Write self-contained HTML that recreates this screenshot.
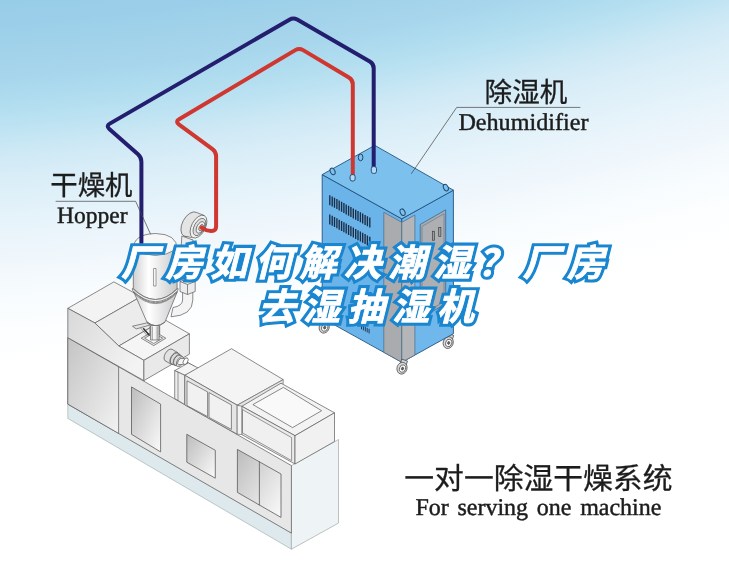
<!DOCTYPE html>
<html><head><meta charset="utf-8"><title>厂房如何解决潮湿？厂房去湿抽湿机</title>
<style>html,body{margin:0;padding:0;background:#fff}body{width:729px;height:561px;overflow:hidden;font-family:"Liberation Sans",sans-serif}svg{display:block}</style>
</head><body>
<svg width="729" height="561" viewBox="0 0 729 561" role="img"><title>厂房如何解决潮湿？厂房去湿抽湿机</title><desc>一对一除湿干燥系统 For serving one machine. 干燥机 Hopper, 除湿机 Dehumidifier.</desc><defs>
<radialGradient id="bg" gradientUnits="userSpaceOnUse" cx="-272.0" cy="-3400.0" r="3790.9"><stop offset="0.89976" stop-color="#98cde8"/><stop offset="0.90635" stop-color="#9bcfe9"/><stop offset="0.92086" stop-color="#a8d6ec"/><stop offset="0.92614" stop-color="#afdcef"/><stop offset="0.93141" stop-color="#b9e1f1"/><stop offset="0.93669" stop-color="#c6e6f4"/><stop offset="0.93933" stop-color="#cde8f5"/><stop offset="0.94724" stop-color="#daeef8"/><stop offset="0.95779" stop-color="#e6f3fa"/><stop offset="0.96834" stop-color="#f0f7fc"/><stop offset="0.97890" stop-color="#f8fcfe"/><stop offset="0.98945" stop-color="#fdfeff"/><stop offset="1.00000" stop-color="#ffffff"/></radialGradient>

<linearGradient id="win" x1="0" y1="0" x2="1" y2="1"><stop offset="0" stop-color="#bcbcbc"/><stop offset="1" stop-color="#fafafa"/></linearGradient>
<linearGradient id="dark" x1="0" y1="0" x2="1" y2="1"><stop offset="0" stop-color="#c4c4c4"/><stop offset="1" stop-color="#f2f2f2"/></linearGradient>
<linearGradient id="blk" x1="0" y1="0" x2="1" y2="0.6"><stop offset="0" stop-color="#d8d8d8"/><stop offset="1" stop-color="#f3f3f3"/></linearGradient>
<linearGradient id="cyl" x1="0" y1="0" x2="1" y2="0"><stop offset="0" stop-color="#d0d0d0"/><stop offset="0.35" stop-color="#ffffff"/><stop offset="1" stop-color="#c8c8c8"/></linearGradient>
</defs>
<rect width="729" height="561" fill="url(#bg)"/>
<polygon points="67.8,404.1 291.4,533.1 291.4,549.2 67.8,418.4" fill="#dde9ec" stroke="#9aa" stroke-width="0.6" stroke-linejoin="round" />
<polygon points="291.4,465.6 338.5,439.5 338.5,523.1 291.4,549.2" fill="#eef4f6" stroke="#999" stroke-width="0.6" stroke-linejoin="round" />
<polygon points="67.8,337.7 291.4,465.6 291.4,533.1 67.8,404.1" fill="#e7e7e7" stroke="#5a5a5a" stroke-width="0.7" stroke-linejoin="round" />
<polygon points="67.8,337.7 118.6,366.8 118.6,433.4 67.8,404.1" fill="url(#dark)" stroke="#5a5a5a" stroke-width="0.7" stroke-linejoin="round" />
<polygon points="131.5,386.9 160.6,404.1 160.6,451.9 131.5,434.3" fill="url(#win)" stroke="#5a5a5a" stroke-width="0.8" stroke-linejoin="round" />
<polygon points="186.8,434.3 215.3,450.3 215.3,478.2 186.8,462.2" fill="url(#win)" stroke="#5a5a5a" stroke-width="0.8" stroke-linejoin="round" />
<polygon points="237.4,449.4 281.0,474.0 281.0,517.4 237.4,492.4" fill="url(#win)" stroke="#5a5a5a" stroke-width="0.8" stroke-linejoin="round" />
<polyline points="259.4,461.8 259.4,505.0" fill="none" stroke="#5a5a5a" stroke-width="0.8" stroke-linejoin="round" stroke-linecap="round" />
<polygon points="67.8,308.3 113.9,281.9 141.0,296.6 94.9,323.0" fill="#f3f3f3" stroke="#5a5a5a" stroke-width="0.7" stroke-linejoin="round" />
<polygon points="94.9,323.0 141.0,296.6 164.3,319.5 118.8,346.0" fill="#ececec" stroke="#5a5a5a" stroke-width="0.7" stroke-linejoin="round" />
<polygon points="118.8,346.0 164.3,319.5 189.4,333.8 143.9,360.3" fill="#f5f5f5" stroke="#5a5a5a" stroke-width="0.7" stroke-linejoin="round" />
<polygon points="67.8,308.3 94.9,323.0 118.8,346.0 143.9,360.3 143.9,380.6 67.8,337.7" fill="url(#blk)" stroke="#5a5a5a" stroke-width="0.7" stroke-linejoin="round" />
<polygon points="143.9,360.3 189.4,333.8 189.4,354.2 143.9,380.6" fill="#e9e9e9" stroke="#5a5a5a" stroke-width="0.7" stroke-linejoin="round" />
<polyline points="186.0,362.0 195.0,367.2" fill="none" stroke="#5a5a5a" stroke-width="1.4" stroke-linejoin="round" stroke-linecap="round" />
<ellipse cx="168.8" cy="355.2" rx="3.87" ry="6.70" fill="#e2e2e2" stroke="#5a5a5a" stroke-width="0.7" transform="rotate(30 168.8 355.2)"/>
<path d="M172.2 349.4 L177.9 352.7 L171.2 364.3 L165.5 361.0 Z" fill="#e2e2e2" stroke="none"/>
<path d="M172.2 349.4 L177.9 352.7 M165.5 361.0 L171.2 364.3" stroke="#5a5a5a" stroke-width="0.7" fill="none"/>
<ellipse cx="174.6" cy="358.5" rx="3.87" ry="6.70" fill="#e6e6e6" stroke="#5a5a5a" stroke-width="0.7" transform="rotate(30 174.6 358.5)"/>
<ellipse cx="174.6" cy="358.5" rx="3.46" ry="6.00" fill="#dcdcdc" stroke="#5a5a5a" stroke-width="0.7" transform="rotate(30 174.6 358.5)"/>
<path d="M177.6 353.3 L180.4 354.9 L174.4 365.3 L171.6 363.7 Z" fill="#dcdcdc" stroke="none"/>
<path d="M177.6 353.3 L180.4 354.9 M171.6 363.7 L174.4 365.3" stroke="#5a5a5a" stroke-width="0.7" fill="none"/>
<ellipse cx="177.4" cy="360.1" rx="3.46" ry="6.00" fill="#e8e8e8" stroke="#5a5a5a" stroke-width="0.7" transform="rotate(30 177.4 360.1)"/>
<ellipse cx="177.4" cy="360.1" rx="3.12" ry="5.40" fill="#dcdcdc" stroke="#5a5a5a" stroke-width="0.7" transform="rotate(30 177.4 360.1)"/>
<path d="M180.1 355.4 L182.9 357.0 L177.5 366.4 L174.7 364.8 Z" fill="#dcdcdc" stroke="none"/>
<path d="M180.1 355.4 L182.9 357.0 M174.7 364.8 L177.5 366.4" stroke="#5a5a5a" stroke-width="0.7" fill="none"/>
<ellipse cx="180.2" cy="361.7" rx="3.12" ry="5.40" fill="#efefef" stroke="#5a5a5a" stroke-width="0.7" transform="rotate(30 180.2 361.7)"/>
<ellipse cx="180.2" cy="361.7" rx="2.08" ry="3.60" fill="#f4f4f4" stroke="#5a5a5a" stroke-width="0.7" transform="rotate(30 180.2 361.7)"/>
<path d="M182.0 358.6 L187.4 358.1 L183.8 364.3 L178.4 364.8 Z" fill="#f4f4f4" stroke="none"/>
<path d="M182.0 358.6 L187.4 358.1 M178.4 364.8 L183.8 364.3" stroke="#5a5a5a" stroke-width="0.7" fill="none"/>
<ellipse cx="185.6" cy="361.2" rx="2.08" ry="3.60" fill="#ffffff" stroke="#5a5a5a" stroke-width="0.7" transform="rotate(30 185.6 361.2)"/>
<polygon points="174.7,370.6 188.4,362.9 198.5,368.2 184.8,375.3" fill="#f4f4f4" stroke="#5a5a5a" stroke-width="0.7" stroke-linejoin="round" />
<polygon points="174.7,370.6 184.8,375.3 184.8,404.6 174.7,398.6" fill="#ededed" stroke="#5a5a5a" stroke-width="0.7" stroke-linejoin="round" />
<polyline points="178.0,372.2 178.0,400.5" fill="none" stroke="#5a5a5a" stroke-width="0.6" stroke-linejoin="round" stroke-linecap="round" />
<polygon points="184.8,375.3 231.5,348.7 283.2,379.6 237.2,405.2" fill="#f4f4f4" stroke="#5a5a5a" stroke-width="0.7" stroke-linejoin="round" />
<polygon points="184.8,375.3 237.2,405.2 237.2,434.2 184.8,404.9" fill="#e5e5e5" stroke="#5a5a5a" stroke-width="0.7" stroke-linejoin="round" />
<polygon points="187.0,380.8 207.6,391.9 207.6,416.6 187.0,405.6" fill="#f1f1f1" stroke="#5a5a5a" stroke-width="0.7" stroke-linejoin="round" />
<polygon points="209.0,392.6 231.4,404.9 231.4,429.4 209.0,417.4" fill="#f1f1f1" stroke="#5a5a5a" stroke-width="0.7" stroke-linejoin="round" />
<polygon points="237.2,405.2 283.2,379.6 283.2,383.8 241.8,406.8" fill="#e4e4e4" stroke="#5a5a5a" stroke-width="0.6" stroke-linejoin="round" />
<polygon points="241.8,406.3 281.0,383.2 334.5,412.8 295.0,435.7" fill="#f3f3f3" stroke="#5a5a5a" stroke-width="0.7" stroke-linejoin="round" />
<polygon points="252.9,404.6 283.4,387.4 321.6,410.7 292.6,427.6" fill="#f9f9f9" stroke="#5a5a5a" stroke-width="0.7" stroke-linejoin="round" />
<polygon points="241.8,406.3 295.0,435.7 295.0,464.0 241.8,434.6" fill="#ebebeb" stroke="#5a5a5a" stroke-width="0.7" stroke-linejoin="round" />
<polygon points="242.5,409.6 291.6,437.6 291.6,460.6 242.5,432.9" fill="#f0f0f0" stroke="#5a5a5a" stroke-width="0.6" stroke-linejoin="round" />
<polygon points="295.0,435.7 334.5,412.8 334.5,441.5 295.0,464.0" fill="#f1f1f1" stroke="#5a5a5a" stroke-width="0.7" stroke-linejoin="round" />
<polygon points="237.2,405.2 241.8,406.3 241.8,434.6 237.2,434.2" fill="#f3f3f3" stroke="#5a5a5a" stroke-width="0.6" stroke-linejoin="round" />
<g stroke="#5a5a5a" stroke-width="0.7" stroke-linejoin="round">
<path d="M182.6 240 L182.6 300 Q182.4 306 173 307.5 L171 316.8 Q192.6 315.5 192.8 300 L192.8 240 Z" fill="#f4f4f4"/>
<path d="M180 281.5 L188 278.5 L195.2 281.5 L195.2 291.5 L187.5 294.5 L180 291.5 Z" fill="#ececec"/>
<path d="M180 281.5 L187.5 284.5 L195.2 281.5 M187.5 284.5 L187.5 294.5" fill="none"/>
<path d="M133.6 291.5 L146.8 321.8 Q155.8 329.5 164.9 322.2 L177.4 291.5 Q155.7 314 133.6 291.5 Z" fill="url(#cyl)"/>
<rect x="149.9" y="326.5" width="9.8" height="13" fill="url(#cyl)"/>
<path d="M146.8 321.8 Q155.8 329.5 164.9 322.2" fill="none"/>
<polygon points="141.2,338.2 153.7,331 165.8,338.2 153.7,345.6" fill="#e9e9e9"/>
<polygon points="144.6,338.2 153.7,333 162.6,338.2 153.7,343.5" fill="#fafafa"/>
<rect x="150.6" y="325.5" width="8.6" height="14.5" fill="url(#cyl)"/>
<path d="M152.6 326.5 V340 M157.2 326.5 V340" stroke="#777" stroke-width="0.6" fill="none"/>
<polygon points="132.5,326.2 146.8,322.9 150.2,325 136.2,328.9" fill="#e4e4e4"/>
<path d="M143.2 328.2 L149.6 335.6" stroke="#333" stroke-width="1.5" fill="none"/>
<path d="M140.5 328 L147.5 336" stroke="#666" stroke-width="0.6" fill="none"/>
<path d="M133.3 247 L133.3 288.5 Q155.7 310.5 177.1 288.5 L177.1 247 Z" fill="url(#cyl)"/>
<path d="M132.4 288.3 Q155.7 310.7 178.0 288.3 L178.0 290.4 Q155.7 313.0 132.4 290.4 Z" fill="#f3f3f3"/>
<path d="M133.0 292.3 Q155.7 315.0 177.5 292.3" fill="none" stroke-width="0.6"/>
<path d="M133.3 249 Q133.3 234 155.7 233.5 Q177.1 234 177.1 249 Q155.7 262 133.3 249 Z" fill="#f7f7f7"/>
<rect x="153.6" y="268.5" width="2.4" height="17.5" fill="#fff" stroke-width="0.6"/>
</g>
<g stroke="#5a5a5a" stroke-width="0.7">
<path d="M181.8 236 L181.2 247 L186 252 L193.4 249 L193 240 Z" fill="#ececec"/>
<ellipse cx="190.3" cy="224.3" rx="7.9" ry="13.4" fill="#e4e4e4" transform="rotate(28 190.3 224.3)"/>
<path d="M196.6 212.5 L204.6 215.6 L192.4 237.6 L184.0 236.1 Z" fill="#e4e4e4" stroke="none"/>
<path d="M196.6 212.5 L204.6 215.6 M184.0 236.1 L192.4 237.6" fill="none"/>
<ellipse cx="198.5" cy="226.6" rx="6.9" ry="12.4" fill="#f1f1f1" transform="rotate(28 198.5 226.6)"/>
<ellipse cx="199.4" cy="227.0" rx="5.2" ry="9.4" fill="#dedede" transform="rotate(28 199.4 227.0)"/>
<ellipse cx="200.4" cy="227.4" rx="3.5" ry="6.3" fill="#ededed" transform="rotate(28 200.4 227.4)"/>
<ellipse cx="201.2" cy="227.7" rx="2.0" ry="3.4" fill="#e9b9b7" transform="rotate(28 201.2 227.7)"/>
</g>
<g stroke="#444" stroke-width="0.7" transform="rotate(18 324.2 327.2)"><rect x="321.2" y="318.7" width="6" height="5" fill="#d8d8d8"/><ellipse cx="324.2" cy="327.2" rx="5.0" ry="6.0" fill="#d9d9d9"/><ellipse cx="324.8" cy="327.4" rx="3.0" ry="3.8" fill="#fafafa"/><ellipse cx="324.8" cy="327.4" rx="1.1" ry="1.4" fill="#666"/></g>
<g stroke="#444" stroke-width="0.7" transform="rotate(18 448.2 342.6)"><rect x="445.2" y="334.1" width="6" height="5" fill="#d8d8d8"/><ellipse cx="448.2" cy="342.6" rx="5.0" ry="6.0" fill="#d9d9d9"/><ellipse cx="448.8" cy="342.8" rx="3.0" ry="3.8" fill="#fafafa"/><ellipse cx="448.8" cy="342.8" rx="1.1" ry="1.4" fill="#666"/></g>
<polygon points="322.2,174.6 401.8,218.8 401.8,362.3 322.2,318.1" fill="#6ab4e9" stroke="#24527f" stroke-width="0.9" stroke-linejoin="round" />
<polygon points="401.8,218.8 453.4,190.2 453.4,333.7 401.8,362.3" fill="#70b8eb" stroke="#24527f" stroke-width="0.9" stroke-linejoin="round" />
<polygon points="322.2,174.6 374.8,145.4 453.4,190.2 401.8,218.8" fill="#7cc1ee" stroke="#24527f" stroke-width="0.9" stroke-linejoin="round" />
<polygon points="383.8,212.3 401.8,222.3 401.8,362.3 383.8,352.3" fill="#a9abae" stroke="#4a6a86" stroke-width="0.7" stroke-linejoin="round" />
<polygon points="401.8,222.3 414.9,215.0 414.9,355.0 401.8,362.3" fill="#b3b5b8" stroke="#4a6a86" stroke-width="0.7" stroke-linejoin="round" />
<polygon points="420.2,224.5 445.7,209.8 445.7,303.8 420.2,318.5" fill="#a9abae" stroke="#2f5f8a" stroke-width="0.7" stroke-linejoin="round" />
<polygon points="422.0,226.5 444.0,213.8 444.0,301.8 422.0,314.5" fill="#adafb2" stroke="#4a6a86" stroke-width="0.5" stroke-linejoin="round" />
<rect x="432.3" y="231.2" width="2.2" height="9" fill="#9a9ca0" stroke="#333" stroke-width="0.6"/>
<rect x="438.7" y="227.4" width="2.2" height="9" fill="#9a9ca0" stroke="#333" stroke-width="0.6"/>
<path d="M329.8 195.2v10M332.2 196.5v10M334.5 197.8v10M336.9 199.1v10M339.2 200.5v10M341.6 201.8v10M343.9 203.1v10M346.2 204.4v10M348.6 205.7v10M350.9 207.0v10M353.3 208.4v10M355.7 209.7v10M358.0 211.0v10M360.4 212.3v10M362.7 213.6v10M365.1 214.9v10M367.4 216.3v10M369.8 217.6v10M329.8 214.4v10M332.2 215.7v10M334.5 217.0v10M336.9 218.3v10M339.2 219.7v10M341.6 221.0v10M343.9 222.3v10M346.2 223.6v10M348.6 224.9v10M350.9 226.2v10M353.3 227.6v10M355.7 228.9v10M358.0 230.2v10M360.4 231.5v10M362.7 232.8v10M365.1 234.1v10M367.4 235.5v10M369.8 236.8v10" stroke="#1c2c44" stroke-width="1.35" fill="none"/>
<g stroke="#444" stroke-width="0.7" transform="rotate(18 402.0 368.2)"><rect x="399.0" y="359.7" width="6" height="5" fill="#d8d8d8"/><ellipse cx="402.0" cy="368.2" rx="5.0" ry="6.0" fill="#d9d9d9"/><ellipse cx="402.6" cy="368.4" rx="3.0" ry="3.8" fill="#fafafa"/><ellipse cx="402.6" cy="368.4" rx="1.1" ry="1.4" fill="#666"/></g>
<path d="M361.5 324.8v4.5M363.4 325.8v4.5M365.3 326.9v4.5M367.2 327.9v4.5M369.1 328.9v4.5" stroke="#1c2c44" stroke-width="0.9" fill="none"/>
<ellipse cx="332.6" cy="171.4" rx="2.3" ry="3.4" fill="#7fc0ec" stroke="#1d466f" stroke-width="1.0" transform="rotate(-25 332.6 171.4)"/>
<ellipse cx="360.6" cy="157.4" rx="2.3" ry="3.4" fill="#7fc0ec" stroke="#1d466f" stroke-width="1.0" transform="rotate(0 360.6 157.4)"/>
<ellipse cx="402.6" cy="212.2" rx="2.3" ry="3.4" fill="#7fc0ec" stroke="#1d466f" stroke-width="1.0" transform="rotate(-25 402.6 212.2)"/>
<ellipse cx="445.8" cy="187.6" rx="2.3" ry="3.4" fill="#7fc0ec" stroke="#1d466f" stroke-width="1.0" transform="rotate(-25 445.8 187.6)"/>
<path d="M141.4 243.0L141.4 161.8Q141.4 157.3 138.0 154.3L109.3 128.9Q105.9 125.9 109.8 123.6L289.4 19.7Q293.3 17.4 297.2 19.6L369.8 61.6Q373.7 63.8 373.7 68.3L373.7 168.0" fill="none" stroke="#231e6e" stroke-width="4.0" stroke-linecap="round" stroke-linejoin="round"/>
<path d="M201.8 227.6L202.8 228.3Q206.5 230.9 211.0 230.9L211.6 230.9Q216.1 230.9 216.1 226.4L216.1 156.3Q216.1 151.8 212.5 149.1L178.8 124.3Q175.2 121.6 179.1 119.3L295.3 50.1Q299.2 47.8 303.1 50.1L348.9 77.5Q352.8 79.8 352.8 84.3L352.8 176.0" fill="none" stroke="#cf3830" stroke-width="4.0" stroke-linecap="round" stroke-linejoin="round"/>
<rect x="350.1" y="174.6" width="5.0" height="6.4" rx="2" fill="#b4daf4" stroke="#1d3f70" stroke-width="0.9"/>
<rect x="371.3" y="166.6" width="5.2" height="6.8" rx="2" fill="#b4daf4" stroke="#1d3f70" stroke-width="0.9"/>
<g style="will-change:transform;text-rendering:geometricPrecision">
<text x="50.3" y="195" font-family="'Liberation Sans', 'Noto Sans CJK SC', sans-serif" font-size="27.4" fill="#1c1c1c" stroke="#1c1c1c" stroke-width="0.3">干燥机</text>
<polyline points="56.0,201.3 135.6,201.3 150.5,234.0" fill="none" stroke="#444" stroke-width="0.7" stroke-linejoin="round" stroke-linecap="round" />
<text x="57" y="222.6" font-family="Liberation Serif, serif" font-size="23.5" fill="#1c1c1c" stroke="#1c1c1c" stroke-width="0.45" >Hopper</text>
<text x="484.6" y="102" font-family="'Liberation Sans', 'Noto Sans CJK SC', sans-serif" font-size="27.6" fill="#1c1c1c" stroke="#1c1c1c" stroke-width="0.3">除湿机</text>
<polyline points="580.0,107.4 456.7,107.4 411.5,173.5" fill="none" stroke="#444" stroke-width="0.7" stroke-linejoin="round" stroke-linecap="round" />
<text x="458.4" y="129.5" font-family="Liberation Serif, serif" font-size="24.15" fill="#1c1c1c" stroke="#1c1c1c" stroke-width="0.45" >Dehumidifier</text>
<text x="404.3" y="489.3" font-family="'Liberation Sans', 'Noto Sans CJK SC', sans-serif" font-size="29.8" fill="#1c1c1c" stroke="#1c1c1c" stroke-width="0.3">一对一除湿干燥系统</text>
<text x="415.4" y="515.3" font-family="Liberation Serif, serif" font-size="24" fill="#1c1c1c" stroke="#1c1c1c" stroke-width="0.45" word-spacing="2.7">For serving one machine</text>
</g>
<g font-family="'Liberation Sans', 'Noto Sans CJK SC', sans-serif" font-size="37" font-weight="bold" font-style="italic" letter-spacing="7.6" stroke-linejoin="miter" stroke-miterlimit="3">
<text x="121" y="276" fill="#1b86d0" stroke="#1b86d0" stroke-width="7">厂房如何解决潮湿？厂房</text>
<text x="121" y="276" fill="#fff" stroke="#fff" stroke-width="0.8">厂房如何解决潮湿？厂房</text>
<text x="258.5" y="319.6" fill="#1b86d0" stroke="#1b86d0" stroke-width="7">去湿抽湿机</text>
<text x="258.5" y="319.6" fill="#fff" stroke="#fff" stroke-width="0.8">去湿抽湿机</text>
</g>
</svg>
</body></html>
